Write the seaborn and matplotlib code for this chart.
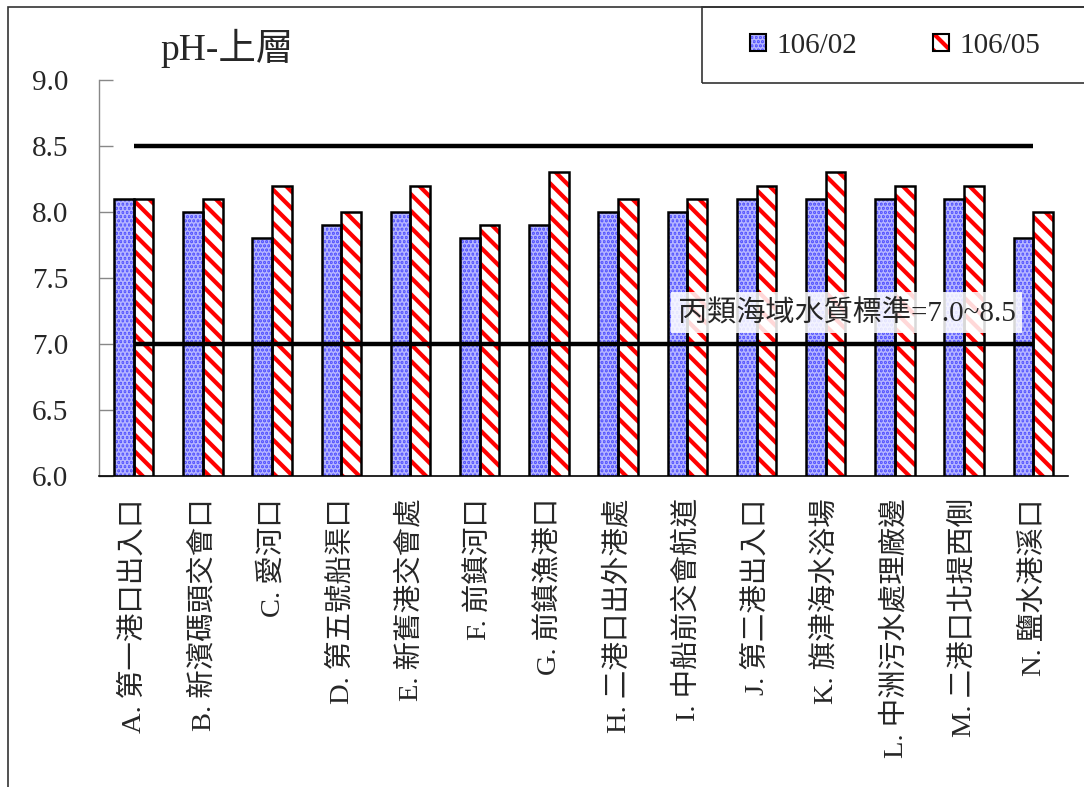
import numpy as np
import pandas as pd
import seaborn as sns
import matplotlib.pyplot as plt
from matplotlib.patches import Rectangle, Patch

stations = ["A. 第一港口出入口", "B. 新濱碼頭交會口", "C. 愛河口", "D. 第五號船渠口",
            "E. 新舊港交會處", "F. 前鎮河口", "G. 前鎮漁港口", "H. 二港口出外港處",
            "I. 中船前交會航道", "J. 第二港出入口", "K. 旗津海水浴場", "L. 中洲污水處理廠邊",
            "M. 二港口北提西側", "N. 鹽水港溪口"]
ph_feb = [8.1, 8.0, 7.8, 7.9, 8.0, 7.8, 7.9, 8.0, 8.0, 8.1, 8.1, 8.1, 8.1, 7.8]
ph_may = [8.1, 8.1, 8.2, 8.0, 8.2, 7.9, 8.3, 8.1, 8.1, 8.2, 8.3, 8.2, 8.2, 8.0]
periods = ["106/02", "106/05"]
std_low, std_high = 7.0, 8.5

df = pd.DataFrame({
    "station": stations * 2,
    "ph": ph_feb + ph_may,
    "period": [periods[0]] * len(stations) + [periods[1]] * len(stations),
})

sns.set_style("white")
plt.rcParams["font.family"] = ["Liberation Serif", "Noto Sans CJK TC"]
plt.rcParams["hatch.linewidth"] = 3.0

fig = plt.figure(figsize=(10.84, 7.87), dpi=100)
ax = fig.add_axes([99 / 1084, 1 - 476 / 787, 969 / 1084, 396 / 787])

blue = "#5858ff"
dots = "#b4b4ff"
sns.barplot(data=df, x="station", y="ph", hue="period", order=stations,
            hue_order=periods, width=0.57, ax=ax, legend=False,
            palette=[blue, "white"], linewidth=0, saturation=1)

# hatch colours on the filled bars, then black outlines on top
n = len(stations)
for i, p in enumerate(ax.patches[:2 * n]):
    if i < n:
        p.set_edgecolor(dots)
        p.set_hatch("....")
    else:
        p.set_edgecolor("red")
        p.set_hatch("\\\\")
    p.set_linewidth(0)
    ax.add_patch(Rectangle(p.get_xy(), p.get_width(), p.get_height(),
                           fill=False, edgecolor="black", linewidth=1.8, zorder=3))

# standard limits
ax.hlines([std_high, std_low], 0, n - 1, color="black", linewidth=3.2, zorder=4)
ax.text(10.3, 7.24, "丙類海域水質標準=7.0~8.5", ha="center", va="center", fontsize=21,
        zorder=5, bbox=dict(facecolor="white", alpha=0.85, edgecolor="none", pad=5))

ax.set_ylim(6.0, 9.0)
ax.set_xlim(-0.5, n - 0.5)
ax.set_yticks(np.arange(6.0, 9.01, 0.5))
ax.set_yticklabels(["%.1f" % v for v in np.arange(6.0, 9.01, 0.5)], fontsize=21)
ax.set_xticks(range(n))
ax.set_xticklabels(stations, rotation=90, fontsize=20.5, va="top")
ax.set_xticks(np.arange(-0.5, n, 1.0), minor=True)
ax.tick_params(axis="x", which="major", length=0, pad=16)
ax.tick_params(axis="x", which="minor", direction="in", length=10, width=1, color="#555555")
ax.tick_params(axis="y", direction="in", length=10, width=1, color="#888888", pad=22, left=True)
ax.set_xlabel("")
ax.set_ylabel("")
for side in ["top", "right"]:
    ax.spines[side].set_visible(False)
ax.spines["left"].set_color("#888888")
ax.spines["left"].set_linewidth(1)
ax.spines["bottom"].set_color("black")
ax.spines["bottom"].set_linewidth(1.2)

fig.text(160 / 1084, 1 - 48 / 787, "pH-上層", fontsize=27, va="center", ha="left")

box_style = dict(fill=False, edgecolor="black", linewidth=1.5)
handles = [(Patch(facecolor=blue, edgecolor=dots, hatch="....", linewidth=0), Patch(**box_style)),
           (Patch(facecolor="white", edgecolor="red", hatch="\\\\", linewidth=0), Patch(**box_style))]
leg = fig.legend(handles, periods, loc="center", ncol=2, fontsize=21, frameon=False,
                 bbox_to_anchor=(895 / 1084, 1 - 46 / 787), handlelength=0.55,
                 handleheight=0.55, handletextpad=0.35, columnspacing=2.6)

# outer chart border and legend box
fig.patches.append(Rectangle((8 / 1084, -0.05), 1.2, 1.05 - 7 / 787, fill=False,
                             edgecolor="#333333", linewidth=1.2,
                             transform=fig.transFigure, figure=fig))
fig.patches.append(Rectangle((702 / 1084, 1 - 83 / 787), 1.0, 76 / 787, fill=False,
                             edgecolor="#333333", linewidth=1.2,
                             transform=fig.transFigure, figure=fig))

fig.savefig("out.png", dpi=100)
